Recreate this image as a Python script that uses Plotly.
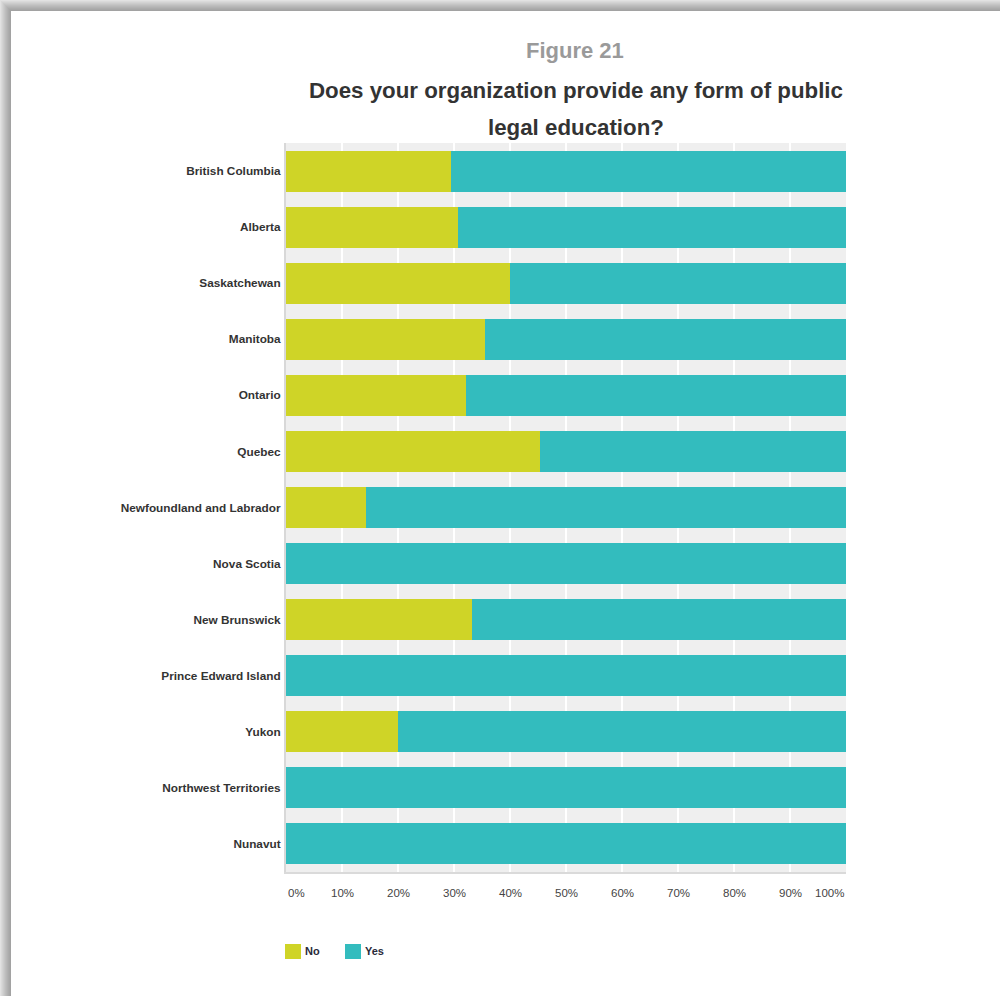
import plotly.graph_objects as go

# Survey responses by province / territory (percent of organizations)
provinces = [
    "British Columbia", "Alberta", "Saskatchewan", "Manitoba", "Ontario",
    "Quebec", "Newfoundland and Labrador", "Nova Scotia", "New Brunswick",
    "Prince Edward Island", "Yukon", "Northwest Territories", "Nunavut",
]
no_pct = [29.4, 30.8, 40.0, 35.5, 32.1, 45.4, 14.3, 0.0, 33.3, 0.0, 20.0, 0.0, 0.0]
yes_pct = [70.6, 69.2, 60.0, 64.5, 67.9, 54.6, 85.7, 100.0, 66.7, 100.0, 80.0, 100.0, 100.0]

series_names = ["No", "Yes"]
series_colors = ["#CFD427", "#33BCBE"]

x_ticks = [0, 10, 20, 30, 40, 50, 60, 70, 80, 90, 100]
x_tick_labels = ["0%", "10%", "20%", "30%", "40%", "50%", "60%", "70%", "80%", "90%", "100%"]

W, H = 1000, 996
L, R, T, B = 286, 154, 143, 124
PW, PH = W - L - R, H - T - B


def px(xp):
    return (xp - L) / PW


def py(yp):
    return (H - B - yp) / PH


fig = go.Figure()
for name, vals, col in zip(series_names, [no_pct, yes_pct], series_colors):
    fig.add_trace(go.Bar(
        y=provinces, x=vals, name=name, orientation="h",
        marker=dict(color=col, line=dict(width=0)),
        showlegend=False,
    ))

shapes = []
# soft page shadow along the top and left edges
shadow = ["#e2e2e2", "#dadada", "#d3d3d3", "#cccccc", "#c5c5c5", "#bebebe",
          "#b8b8b8", "#b2b2b2", "#acacac", "#a7a7a7", "#a2a2a2"]
for i, c in enumerate(shadow):
    shapes.append(dict(type="rect", xref="paper", yref="paper", layer="below",
                       x0=px(i), x1=px(W), y0=py(i), y1=py(i + 1),
                       fillcolor=c, line=dict(width=0)))
    shapes.append(dict(type="rect", xref="paper", yref="paper", layer="below",
                       x0=px(i), x1=px(i + 1), y0=py(i), y1=py(H),
                       fillcolor=c, line=dict(width=0)))

annotations = []
# x tick labels
for i, (v, lab) in enumerate(zip(x_ticks, x_tick_labels)):
    anchor = "left" if i == 0 else ("right" if i == len(x_ticks) - 1 else "center")
    annotations.append(dict(x=v, y=py(893), xref="x", yref="paper", text=lab,
                            showarrow=False, xanchor=anchor, yanchor="middle",
                            font=dict(family="Liberation Sans, Arial", size=11.5, color="#444444")))

# legend
legend_x = [285, 345]
for lx, name, col in zip(legend_x, series_names, series_colors):
    shapes.append(dict(type="rect", xref="paper", yref="paper",
                       x0=px(lx), x1=px(lx + 16), y0=py(959), y1=py(944),
                       fillcolor=col, line=dict(width=0)))
    annotations.append(dict(x=px(lx + 18), y=py(951), xref="paper", yref="paper",
                            text="<b>" + name + "</b>", showarrow=False,
                            xanchor="left", yanchor="middle",
                            font=dict(family="Liberation Sans, Arial", size=11, color="#2a2a3a")))

# titles
title_font = "Liberation Sans, Arial"
annotations.append(dict(x=px(575), y=py(50), xref="paper", yref="paper",
                        text="<b>Figure 21</b>", showarrow=False, xanchor="center", yanchor="middle",
                        font=dict(family=title_font, size=22, color="#9A9A9A")))
annotations.append(dict(x=px(575.5), y=py(90), xref="paper", yref="paper",
                        text="<b>Does your organization provide any form of public</b>",
                        showarrow=False, xanchor="center", yanchor="middle",
                        font=dict(family=title_font, size=22.3, color="#333333")))
annotations.append(dict(x=px(575.5), y=py(128), xref="paper", yref="paper",
                        text="<b>legal education?</b>", showarrow=False,
                        xanchor="center", yanchor="middle",
                        font=dict(family=title_font, size=22.3, color="#333333")))

fig.update_layout(
    width=W, height=H,
    margin=dict(l=L, r=R, t=T, b=B),
    barmode="stack", bargap=0.27,
    paper_bgcolor="white", plot_bgcolor="#EFEFEF",
    shapes=shapes, annotations=annotations,
    font=dict(family="Liberation Sans, Arial"),
)
fig.update_xaxes(range=[0, 100], tickvals=x_ticks, showticklabels=False,
                 showgrid=True, gridcolor="white", gridwidth=1.5, zeroline=False,
                 showline=True, linecolor="#DADADA", linewidth=2, fixedrange=True)
fig.update_yaxes(autorange="reversed", showgrid=False, zeroline=False,
                 showline=True, linecolor="#D8D8D8", linewidth=2,
                 ticks="outside", ticklen=1, tickcolor="rgba(0,0,0,0)",
                 tickfont=dict(family="Liberation Sans, Arial", size=11.8, color="#333333"),
                 tickprefix="<b>", ticksuffix="</b>", fixedrange=True)

fig.write_html("out.html")
